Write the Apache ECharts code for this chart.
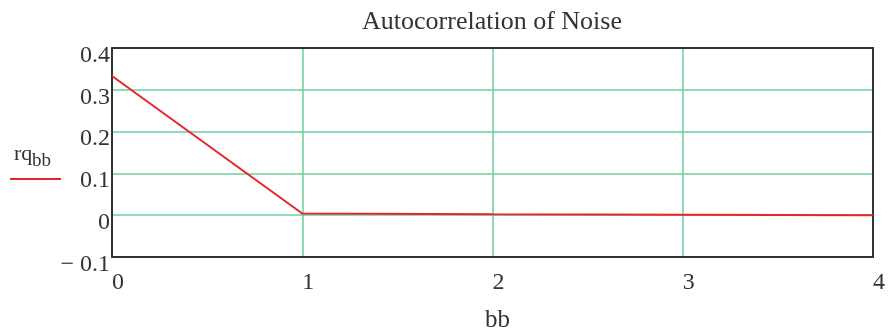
<!DOCTYPE html>
<html>
<head>
<meta charset="utf-8">
<script src="https://cdn.jsdelivr.net/npm/echarts@6/dist/echarts.min.js"></script>
<style>
  html, body { margin: 0; padding: 0; background: #fff; }
  #chart { width: 889px; height: 335px; }
</style>
</head>
<body>
<div id="chart"></div>
<script>
// Lag index and autocorrelation estimate of the noise sequence
const lags = [0, 1, 2, 3, 4];
const rqValues = [0.333, 0.004, 0.002, 0.001, 0.0];

const chartTitle = 'Autocorrelation of Noise';
const xName = 'bb';
const seriesName = 'rq';
const seriesSub = 'bb';

const FONT = '"Liberation Serif", "Times New Roman", serif';
const INK = '#333';
const GRID_GREEN = '#6acf98';
const RED = '#e8232b';

const chart = echarts.init(document.getElementById('chart'), null, { renderer: 'canvas' });

// Plain axes used only to close the frame on the top and right sides
const frameAxis = {
  axisLine: { show: true, onZero: false, lineStyle: { color: INK, width: 2 } },
  axisTick: { show: false },
  axisLabel: { show: false },
  splitLine: { show: false }
};

function yLabel(v) {
  const r = Math.round(v * 10) / 10;
  if (r === 0) return '{v|0}';
  return '{v|' + (r < 0 ? '\u2212 ' + Math.abs(r) : String(r)) + '}';
}

chart.setOption({
  animation: false,
  backgroundColor: '#fff',
  title: {
    text: chartTitle,
    left: 487, textAlign: 'center', top: 4,
    textStyle: { fontFamily: FONT, fontSize: 26, fontWeight: 'normal', color: INK }
  },
  grid: { left: 112, right: 16, top: 48, bottom: 78, containLabel: false, outerBoundsMode: 'none' },
  xAxis: [{
    type: 'value', min: 0, max: 4, interval: 1,
    name: xName, nameLocation: 'middle', nameGap: 51,
    nameTextStyle: { fontFamily: FONT, fontSize: 25, color: INK, padding: [0, 0, 0, 10] },
    axisLine: { show: true, onZero: false, lineStyle: { color: INK, width: 2 } },
    axisTick: { show: false },
    axisLabel: { fontFamily: FONT, fontSize: 24, color: INK, margin: 14, padding: [0, 0, 0, 12] },
    splitLine: { show: true, showMinLine: false, showMaxLine: false, lineStyle: { color: GRID_GREEN, width: 1.5 } }
  }, Object.assign({ type: 'value', min: 0, max: 4, position: 'top' }, frameAxis)],
  yAxis: [{
    type: 'value', min: -0.1, max: 0.4, interval: 0.1,
    axisLine: { show: true, onZero: false, lineStyle: { color: INK, width: 2 } },
    axisTick: { show: false },
    axisLabel: {
      fontFamily: FONT, fontSize: 24, color: INK, margin: 2,
      formatter: yLabel,
      rich: { v: { fontFamily: FONT, fontSize: 24, color: INK, padding: [15, 0, 0, 0] } }
    },
    splitLine: { show: true, showMinLine: false, showMaxLine: false, lineStyle: { color: GRID_GREEN, width: 1.5 } }
  }, Object.assign({ type: 'value', min: -0.1, max: 0.4, position: 'right' }, frameAxis)],
  graphic: [
    {
      type: 'text', x: 14, y: 165,
      style: { text: seriesName, fontFamily: FONT, fontSize: 22, fill: INK, verticalAlign: 'bottom' }
    },
    {
      type: 'text', x: 32, y: 171,
      style: { text: seriesSub, fontFamily: FONT, fontSize: 19, fill: INK, verticalAlign: 'bottom' }
    },
    {
      type: 'line', shape: { x1: 10, y1: 179, x2: 61, y2: 179 },
      style: { stroke: RED, lineWidth: 2 }
    }
  ],
  series: [{
    name: seriesName + seriesSub,
    type: 'line',
    data: lags.map((x, i) => [x, rqValues[i]]),
    showSymbol: false,
    lineStyle: { color: RED, width: 2 },
    z: 5
  }]
});
</script>
</body>
</html>
